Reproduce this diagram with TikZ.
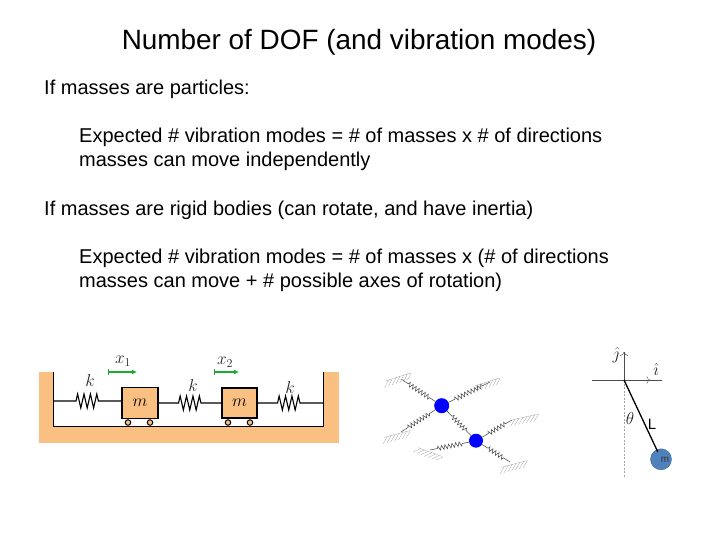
\documentclass[tikz,border=0pt]{standalone}
\usepackage{fontspec}
\setmainfont{Liberation Sans}
\usepackage{tikz}
\usetikzlibrary{decorations.pathmorphing,decorations.markings,arrows.meta}
\definecolor{wallorange}{RGB}{250,192,130}
\definecolor{arrowgreen}{RGB}{30,170,50}
\definecolor{ballblue}{RGB}{79,129,189}
\tikzset{
	body/.style={anchor=base west,inner sep=0pt,font=\fontsize{20}{20}\selectfont},
	springleft/.style={decorate,decoration={zigzag,segment length=6.4pt,amplitude=7pt,pre length=#1,post length=#1}},
	springthin/.style={black!70,line width=0.55pt,decorate,decoration={zigzag,segment length=3.6pt,amplitude=2.2pt,pre length=7pt,post length=7pt}},
	cart/.style={draw,line width=1.1pt,fill=wallorange,inner sep=0pt,font=\fontsize{16}{16}\selectfont},
	wheel/.style={draw,line width=1pt,fill=wallorange,circle,inner sep=0pt,minimum size=5.5pt},
	ball/.style={circle,fill=blue,inner sep=0pt},
	symb/.style={inner sep=0pt,font=\fontsize{17}{17}\selectfont,text=black!85}
}
\begin{document}
\begin{tikzpicture}[x=1pt,y=-1pt]
		\useasboundingbox (0,0) rectangle (720,540);
		% text
		\node[anchor=base,inner sep=0pt,font=\fontsize{27.9}{28}\selectfont] (title) at (359,49.5) {Number of DOF (and vibration modes)};
		\node[body] (lineA) at (44,95) {If masses are particles:};
		\node[body] (lineB) at (79,143) {Expected \# vibration modes = \# of masses x \# of directions};
		\node[body] (lineC) at (79,167) {masses can move independently};
		\node[body] (lineD) at (44,215) {If masses are rigid bodies (can rotate, and have inertia)};
		\node[body] (lineE) at (79,263) {Expected \# vibration modes = \# of masses x (\# of directions};
		\node[body] (lineF) at (79,287) {masses can move + \# possible axes of rotation)};
		% carts on springs
		\begin{scope}
		\fill[wallorange] (39,372) rectangle (339,443);
		\fill[white] (53,372) rectangle (323,426);
		\draw[line width=1pt] (53,372) -- (53,426) -- (323,426) -- (323,372);
		\coordinate (wallL) at (53,401); \coordinate (wallR) at (323,403);
		\node[cart,minimum width=36pt,minimum height=31pt] (massA) at (140,403) {$m$};
		\node[cart,minimum width=35pt,minimum height=30pt] (massB) at (239.5,403) {$m$};
		\node[wheel] (wheelA) at (128,422.5) {}; \node[wheel] (wheelB) at (150,422.5) {};
		\node[wheel] (wheelC) at (228,422.5) {}; \node[wheel] (wheelD) at (250,422.5) {};
		\draw[line width=1.1pt,springleft=23pt] (wallL) -- (massA.west |- wallL);
		\draw[line width=1.1pt,springleft=20pt] (massA.east) -- (massB.west);
		\draw[line width=1.1pt,springleft=20pt] (massB.east) -- (wallR);
		\node[symb] (kA) at (90,380) {$k$};
		\node[symb] (kB) at (193,385) {$k$};
		\node[symb] (kC) at (290,387) {$k$};
		\node[symb] (xA) at (123,361) {$x_{1}$};
		\node[symb] (xB) at (225,362) {$x_{2}$};
		\draw[arrowgreen,line width=1.2pt,{Bar[width=6pt]}-{Latex[length=5pt,width=5pt]}] (108,372) -- (137,372);
		\draw[arrowgreen,line width=1.2pt,{Bar[width=6pt]}-{Latex[length=5pt,width=5pt]}] (214,372) -- (239,372);
		\end{scope}
		% two particles with grounded springs
		\begin{scope}
		\node[ball,minimum size=15pt] (ballA) at (441.7,405.7) {};
		\node[ball,minimum size=14pt] (ballB) at (476,440.7) {};
		\coordinate (gndA) at (401,379); \coordinate (gndB) at (490,382);
		\coordinate (gndC) at (401,432); \coordinate (gndD) at (512,420);
		\coordinate (gndE) at (430,450); \coordinate (gndF) at (510,462);
		\foreach \from/\to in {ballA/gndA,ballA/gndB,ballA/gndC,ballA/ballB,ballB/gndD,ballB/gndE,ballB/gndF}
			\draw[springthin] (\from) -- (\to);
		\foreach \at/\ang/\shx/\shy in {gndA/-18/-3/-2,gndB/-18/-3/0,gndC/-15/-4/2,gndD/-12/13/-3,gndE/20/0/2,gndF/-15/4/2}{
			\begin{scope}[shift={(\at)},xshift=\shx pt,yshift=-\shy pt,rotate=-\ang]
			\draw[black!45,very thin] (-13,0) -- (13,0);
			\foreach \t in {-10,-6,-2,2,6,10,14}
				\draw[black!45,very thin] (\t,0) -- ++(-6,6);
			\end{scope}
		}
		\end{scope}
		% pendulum
		\begin{scope}
		\coordinate (pivot) at (624,380);
		\coordinate (axisL) at (592,380); \coordinate (axisR) at (662,380);
		\coordinate (axisU) at (624,352); \coordinate (plumb) at (624,478);
		\node[circle,fill=ballblue,draw=ballblue!80!black,minimum size=21pt,inner sep=0pt] (bob) at (661,459.3) {};
		\node[inner sep=0pt,font=\fontsize{10}{10}\selectfont,text=black!80] (bobm) at (665,460) {m};
		\draw[dash pattern=on 2pt off 1.5pt,black!35,line width=1pt] (pivot) -- (plumb);
		\draw[black!70,postaction={decorate},decoration={markings,mark=at position 0.83 with {\arrow{To[length=3.5pt]}}}] (axisL) -- (axisR);
		\draw[black!70,-{To[length=4pt]}] (pivot) -- (axisU);
		\draw[line width=1.3pt] (pivot) -- (657.7,451.7);
		\node[symb] (jhat) at (616,355) {$\hat{\jmath}$};
		\node[symb] (ihat) at (656,369) {$\hat{\imath}$};
		\node[symb] (theta) at (630,418) {$\theta$};
		\node[inner sep=0pt,font=\fontsize{15}{15}\selectfont] (Llabel) at (652,424) {L};
		\end{scope}
\end{tikzpicture}
\end{document}
